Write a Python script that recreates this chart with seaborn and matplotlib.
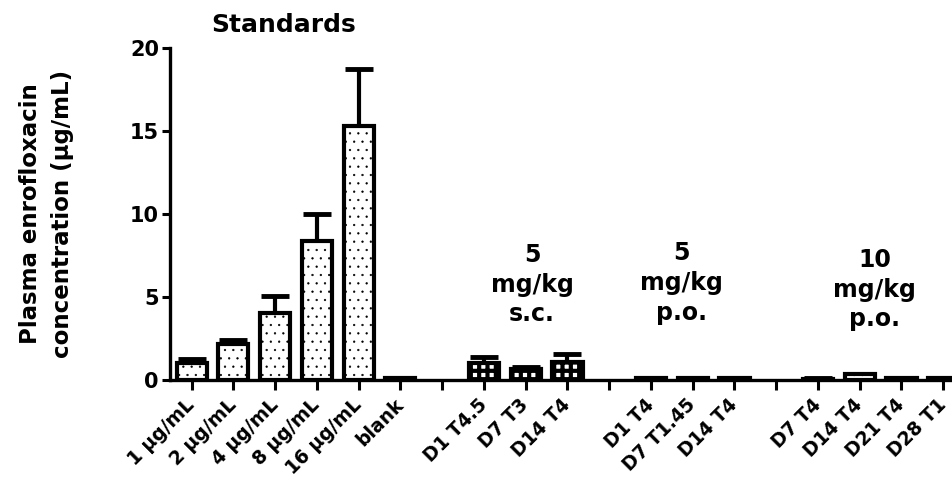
import numpy as np
import pandas as pd
import matplotlib
matplotlib.use("Agg")
import matplotlib.pyplot as plt
import seaborn as sns

# Standards and sample groups: mean concentration and upper SD (µg/mL)
std_labels = ["1 µg/mL", "2 µg/mL", "4 µg/mL", "8 µg/mL", "16 µg/mL", "blank"]
std_conc = [1.0, 2.17, 4.06, 8.4, 15.3, 0.12]
std_sd = [0.25, 0.24, 1.02, 1.58, 3.42, 0.03]

sc5_labels = ["D1 T4.5", "D7 T3", "D14 T4"]
sc5_conc = [1.03, 0.68, 1.06]
sc5_sd = [0.33, 0.1, 0.48]

po5_labels = ["D1 T4", "D7 T1.45", "D14 T4"]
po5_conc = [0.1, 0.1, 0.1]
po5_sd = [0.02, 0.02, 0.02]

po10_labels = ["D7 T4", "D14 T4", "D21 T4", "D28 T1"]
po10_conc = [0.08, 0.34, 0.1, 0.1]
po10_sd = [0.02, 0.05, 0.02, 0.02]

group_titles = ["Standards", "5\nmg/kg\ns.c.", "5\nmg/kg\np.o.", "10\nmg/kg\np.o."]

groups = [
    ("std", std_labels, std_conc, std_sd),
    ("sc5", sc5_labels, sc5_conc, sc5_sd),
    ("po5", po5_labels, po5_conc, po5_sd),
    ("po10", po10_labels, po10_conc, po10_sd),
]

# Build a long table; empty slots separate the groups on the x axis
rows, order, tick_labels, slot_group = [], [], [], []
for gi, (gname, labels, conc, sd) in enumerate(groups):
    if gi > 0:
        order.append(f"gap{gi}")
        tick_labels.append("")
        slot_group.append(None)
    for lab, c, s in zip(labels, conc, sd):
        key = f"{gname}|{lab}"
        rows.append({"key": key, "conc": c, "sd": s, "group": gname})
        order.append(key)
        tick_labels.append(lab)
        slot_group.append(gname)
df = pd.DataFrame(rows)

sns.set_theme(style="ticks")
plt.rcParams["font.family"] = ["DejaVu Sans"]
plt.rcParams["font.weight"] = "bold"
for k in ("text.color", "axes.labelcolor", "xtick.color", "ytick.color",
          "axes.edgecolor", "hatch.color"):
    plt.rcParams[k] = "black"

W, H = 952, 483
fig = plt.figure(figsize=(W / 100, H / 100), dpi=100)
ax = fig.add_axes([170 / W, (H - 380) / H, (W - 170) / W, (380 - 48) / H])

sns.barplot(data=df, x="key", y="conc", order=order, errorbar=None,
            color="white", edgecolor="black", linewidth=3, width=0.72,
            saturation=1, ax=ax)

hatches = {"std": "..", "sc5": "++", "po5": "..", "po10": ".."}
hatch_lw = {"std": 0.4, "sc5": 3.0, "po5": 0.4, "po10": 0.4}
for p in ax.patches:
    idx = int(round(p.get_x() + p.get_width() / 2))
    g = slot_group[idx]
    p.set_facecolor("white")
    p.set_hatch(hatches.get(g, ""))
    if hasattr(p, "set_hatch_linewidth"):
        p.set_hatch_linewidth(hatch_lw.get(g, 0.4))
    p.set_zorder(3)

xpos = [order.index(k) for k in df["key"]]
ax.errorbar(xpos, df["conc"], yerr=[np.zeros(len(df)), df["sd"]], fmt="none",
            ecolor="black", elinewidth=3, capsize=10, capthick=3.5, zorder=2)

ax.set_xlim(-0.52, 18.21)
ax.set_ylim(0, 20)
ax.set_yticks([0, 5, 10, 15, 20])
ax.set_xticks(range(len(order)))
ax.set_xticklabels(tick_labels, rotation=45, ha="right", va="center",
                   rotation_mode="anchor", fontsize=13.5, fontweight="bold")
ax.tick_params(axis="x", length=7, width=2.2, pad=9)
ax.tick_params(axis="y", length=6, width=2.2, pad=2, labelsize=15)
for lab in ax.get_yticklabels():
    lab.set_fontweight("bold")
ax.set_xlabel("")
ax.set_ylabel("")
for side in ("top", "right"):
    ax.spines[side].set_visible(False)
ax.spines["left"].set_linewidth(2.4)
ax.spines["bottom"].set_linewidth(2.4)

# Group headings
ax.text(2.19, 21.4, group_titles[0], ha="center", va="center",
        fontsize=18, fontweight="bold", clip_on=False)
for x, y, t in [(8.15, 5.75, group_titles[1]), (11.74, 5.85, group_titles[2]),
                (16.36, 5.45, group_titles[3])]:
    ax.text(x, y, t, ha="center", va="center", fontsize=17,
            fontweight="bold", linespacing=1.3, multialignment="center")

fig.text(47 / W, 1 - 214 / H,
         "Plasma enrofloxacin\nconcentration (µg/mL)",
         rotation=90, ha="center", va="center", fontsize=16.5,
         fontweight="bold", linespacing=1.5, multialignment="center")

fig.savefig("out.png", dpi=100)
